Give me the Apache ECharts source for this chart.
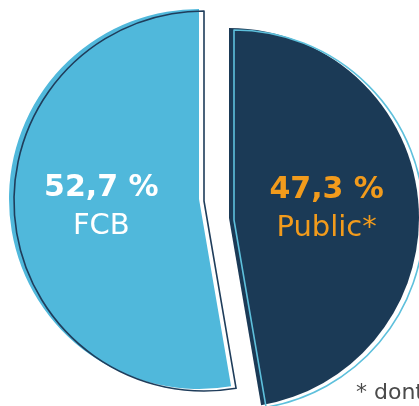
<!DOCTYPE html>
<html>
<head>
<meta charset="utf-8">
<script src="https://cdn.jsdelivr.net/npm/echarts@6/dist/echarts.min.js"></script>
<style>
  html, body { margin: 0; padding: 0; background: #fff; }
  #main { width: 419px; height: 406px; }
</style>
</head>
<body>
<div id="main"></div>
<script>
var names = ['Public*', 'FCB'];
var values = [47.3, 52.7];
var fillColors = ['#1b3a56', '#50b8db'];
var lineColors = ['#5ec0dc', '#1f3d5b'];
var labelColors = ['#f29b1c', '#ffffff'];
var centers = [[229, 218], [199, 199]];
var note = '* dont';

var chart = echarts.init(document.getElementById('main'));

// one slice per series, the other slice stays invisible
var makeSeries = function (idx, outline) {
	var c = centers[idx];
	return {
		type: 'pie',
		silent: true,
		startAngle: 90,
		radius: 190,
		center: outline ? [c[0] + 5, c[1] + 2] : c,
		z: outline ? 3 : 2,
		emphasis: { disabled: true },
		labelLine: { show: false },
		data: names.map(function (n, i) {
			var visible = i === idx;
			return {
				name: n,
				value: values[i],
				itemStyle: visible ? (outline ? {
					color: 'rgba(0,0,0,0)',
					borderColor: lineColors[i],
					borderWidth: 1.6
				} : {
					color: fillColors[i],
					borderWidth: 0
				}) : { color: 'rgba(0,0,0,0)', borderWidth: 0 },
				label: {
					show: visible && !outline,
					position: 'inside',
					color: labelColors[i],
					formatter: function (p) {
						return '{v|' + String(p.value).replace('.', ',') + ' %}\n{n|' + p.name + '}';
					},
					rich: {
						v: { fontFamily: 'DejaVu Sans', fontWeight: 'bold', fontSize: 30, lineHeight: 38, color: labelColors[i] },
						n: { fontFamily: 'DejaVu Sans', fontSize: 29, lineHeight: 38, color: labelColors[i] }
					}
				}
			};
		})
	};
};

chart.setOption({
	animation: false,
	series: [
		makeSeries(1, false),
		makeSeries(1, true),
		makeSeries(0, false),
		makeSeries(0, true)
	],
	graphic: [{
		type: 'text',
		left: 356,
		top: 382,
		silent: true,
		style: {
			text: note,
			fontFamily: 'DejaVu Sans',
			fontSize: 22,
			fill: '#4a4a4a'
		}
	}]
});
</script>
</body>
</html>
